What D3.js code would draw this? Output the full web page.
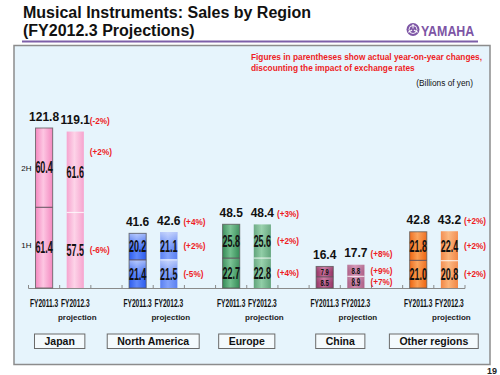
<!DOCTYPE html>
<html>
<head>
<meta charset="utf-8">
<script src="https://cdn.jsdelivr.net/npm/d3@7"></script>
<style>
  body { margin: 0; background: #fff; }
  svg { display: block; font-family: "Liberation Sans", Arial, sans-serif; }
</style>
</head>
<body>
<div id="chart"></div>
<script>
// values (billions of yen)
const regions = ["Japan", "North America", "Europe", "China", "Other regions"];
const years = ["FY2011.3", "FY2012.3"];
const firstHalf = [[61.4, 57.5], [21.4, 21.5], [22.7, 22.8], [8.5, 8.9], [21.0, 20.8]];
const secondHalf = [[60.4, 61.6], [20.2, 21.1], [25.8, 25.6], [7.9, 8.8], [21.8, 22.4]];
const totals = [[121.8, 119.1], [41.6, 42.6], [48.5, 48.4], [16.4, 17.7], [42.8, 43.2]];
const changeTotal = ["(-2%)", "(+4%)", "(+3%)", "(+8%)", "(+2%)"];
const change2H = ["(+2%)", "(+2%)", "(+2%)", "(+9%)", "(+2%)"];
const change1H = ["(-6%)", "(-5%)", "(+4%)", "(+7%)", "(+2%)"];

const regionColors = {
    "Japan": ["#f489c0", "#fdc6e2"],
    "North America": ["#2c5cee", "#5f88fa"],
    "Europe": ["#348a56", "#72c08e"],
    "China": ["#963466", "#c46c98"],
    "Other regions": ["#ee6410", "#fa9e52"]
};
const gloss = { "Japan": 0, "North America": 0.55, "Europe": 0.1, "China": 0.15, "Other regions": 0.1 };

const W = 500, H = 375;
const baseY = 288;

const svg = d3.select("#chart").append("svg")
    .attr("width", W)
    .attr("height", H);

const defs = svg.append("defs");

// slots: two bars per region with an empty slot between regions
const slots = [];
regions.forEach((r, i) => {
    years.forEach((y, j) => slots.push(`${r}|${j}`));
    if (i < regions.length - 1) slots.push(`gap${i}`);
});

const x = d3.scaleBand()
    .domain(slots)
    .range([28.5, 465])
    .padding(0);

const barW = x.bandwidth() * 0.55;

const y = d3.scaleLinear()
    .domain([0, 130])
    .range([baseY, baseY - 130 * 1.3136]);

// gradients
function mix(c, t) { return d3.interpolateRgb(c, "#ffffff")(t); }
regions.forEach((r, i) => {
    [0, 1].forEach(j => {
        const [edge, mid] = regionColors[r];
        const lift = j === 1 ? 0.22 : 0;
        const g = defs.append("linearGradient")
            .attr("id", `grad${i}_${j}`)
            .attr("x1", "0%").attr("x2", "100%").attr("y1", "0%").attr("y2", "0%");
        g.append("stop").attr("offset", "0%").attr("stop-color", mix(edge, lift));
        g.append("stop").attr("offset", "45%").attr("stop-color", mix(mid, lift));
        g.append("stop").attr("offset", "100%").attr("stop-color", mix(edge, lift));
    });
});
const gl = defs.append("linearGradient")
    .attr("id", "gloss")
    .attr("x1", "0%").attr("x2", "0%").attr("y1", "0%").attr("y2", "100%");
gl.append("stop").attr("offset", "0%").attr("stop-color", "#fff").attr("stop-opacity", 1);
gl.append("stop").attr("offset", "55%").attr("stop-color", "#fff").attr("stop-opacity", 0);

// title
svg.append("text")
    .attr("x", 23).attr("y", 17.5)
    .attr("font-size", 16).attr("font-weight", "bold").attr("fill", "#111")
    .text("Musical Instruments: Sales by Region");
svg.append("text")
    .attr("x", 23).attr("y", 36)
    .attr("font-size", 16).attr("font-weight", "bold").attr("fill", "#111")
    .text("(FY2012.3 Projections)");
svg.append("line")
    .attr("x1", 22).attr("x2", 478).attr("y1", 41.5).attr("y2", 41.5)
    .attr("stroke", "#7d5fa8").attr("stroke-width", 2);

// yamaha mark
const logo = svg.append("g").attr("transform", "translate(413,29.5)");
logo.append("circle").attr("r", 6.5).attr("fill", "#7d55a5");
logo.append("circle").attr("r", 4).attr("fill", "none").attr("stroke", "#fff").attr("stroke-width", 0.9);
[0, 120, 240].forEach(a => {
    logo.append("line")
        .attr("x1", 0).attr("y1", -1).attr("x2", 0).attr("y2", -5.5)
        .attr("stroke", "#fff").attr("stroke-width", 1)
        .attr("transform", `rotate(${a})`);
});
svg.append("text")
    .attr("transform", "translate(421,36) scale(0.8,1)")
    .attr("font-weight", "bold").attr("font-size", 15.5)
    .attr("fill", "#7d55a5")
    .text("YAMAHA");

// panel
svg.append("rect")
    .attr("x", 14).attr("y", 45.5).attr("width", 476).attr("height", 319)
    .attr("fill", "#e6f4fc").attr("stroke", "#8c8c8c").attr("stroke-width", 1.5);

svg.append("text")
    .attr("x", 251).attr("y", 60)
    .attr("font-size", 8.3).attr("font-weight", "bold").attr("fill", "#ee1c24")
    .text("Figures in parentheses show actual year-on-year changes,");
svg.append("text")
    .attr("x", 251).attr("y", 70.5)
    .attr("font-size", 8.3).attr("font-weight", "bold").attr("fill", "#ee1c24")
    .text("discounting the impact of exchange rates");
svg.append("text")
    .attr("x", 473).attr("y", 86).attr("text-anchor", "end")
    .attr("font-size", 8.3).attr("fill", "#111")
    .text("(Billions of yen)");

// axis line with ticks at slot boundaries
const axis = svg.append("g");
axis.append("line")
    .attr("x1", x.range()[0]).attr("x2", x.range()[1])
    .attr("y1", baseY + 0.5).attr("y2", baseY + 0.5)
    .attr("stroke", "#8a8a8a");
axis.selectAll(".tick")
    .data(slots.map(s => x(s)).concat([x.range()[1]]))
    .enter().append("line")
    .attr("x1", d => d).attr("x2", d => d)
    .attr("y1", baseY - 3).attr("y2", baseY + 0.5)
    .attr("stroke", "#8a8a8a");

function condText(g, cx, cy, str, size, sx) {
    return g.append("text")
        .attr("transform", `translate(${cx},${cy}) scale(${sx},1)`)
        .attr("text-anchor", "middle")
        .attr("font-weight", "bold")
        .attr("font-size", size)
        .attr("fill", "#111")
        .text(str);
}

const bars = svg.append("g");
regions.forEach((r, i) => {
    years.forEach((yr, j) => {
        const cx = x(`${r}|${j}`) + x.bandwidth() / 2;
        const x0 = cx - barW / 2;
        const h1 = firstHalf[i][j], h2 = secondHalf[i][j];
        const yMid = y(h1), yTop = y(h1 + h2);

        const segs = [[baseY, yMid], [yMid, yTop]];
        segs.forEach(([b, t]) => {
            bars.append("rect")
                .attr("x", x0).attr("y", t).attr("width", barW).attr("height", b - t)
                .attr("fill", `url(#grad${i}_${j})`);
            if (gloss[r] > 0) {
                bars.append("rect")
                    .attr("x", x0).attr("y", t).attr("width", barW).attr("height", b - t)
                    .attr("fill", "url(#gloss)").attr("opacity", gloss[r]);
            }
        });
        // divider
        bars.append("line")
            .attr("x1", x0).attr("x2", x0 + barW).attr("y1", yMid).attr("y2", yMid)
            .attr("stroke", j === 0 ? "#5a4a55" : "#ffffff")
            .attr("stroke-opacity", j === 0 ? 0.8 : 0.7)
            .attr("stroke-width", 1.2);
        if (j === 0) {
            bars.append("rect")
                .attr("x", x0).attr("y", yTop).attr("width", barW).attr("height", baseY - yTop)
                .attr("fill", "none").attr("stroke", "#555").attr("stroke-opacity", 0.75)
                .attr("stroke-width", 1);
        }

        // segment values
        [[h1, baseY, yMid], [h2, yMid, yTop]].forEach(([v, b, t]) => {
            const segH = b - t;
            const fs = Math.min(16, segH * 0.86);
            condText(bars, cx, (b + t) / 2 + fs * 0.36, v.toFixed(1), fs, 0.56 * Math.max(1, 14 / fs) ** 0.3);
        });

        // total
        bars.append("text")
            .attr("x", cx).attr("y", yTop - 7.5)
            .attr("text-anchor", "middle")
            .attr("font-size", 12).attr("font-weight", "bold").attr("fill", "#111")
            .text(totals[i][j].toFixed(1));

        // fiscal year labels
        condText(bars, cx, 307, yr, 10.5, 0.63);
        if (j === 1) {
            bars.append("text")
                .attr("x", cx + 2).attr("y", 319.5)
                .attr("text-anchor", "middle")
                .attr("font-size", 8).attr("font-weight", "bold").attr("fill", "#222")
                .text("projection");

            // red year-on-year changes
            const rx = x0 + barW + 6;
            const red = (ty, str) => bars.append("text")
                .attr("x", rx).attr("y", ty)
                .attr("font-size", 8.2).attr("font-weight", "bold").attr("fill", "#ee1c24")
                .text(str);
            red(yTop - 7.5, changeTotal[i]);
            red(Math.min((yMid + yTop) / 2, yTop + 20) + 3, change2H[i]);
            red((baseY + yMid) / 2 + 3, change1H[i]);
        }
    });

    // region box
    const gx = (x(`${r}|0`) + x(`${r}|1`) + x.bandwidth()) / 2;
    const box = svg.append("g");
    const label = box.append("text")
        .attr("x", gx).attr("y", 345)
        .attr("text-anchor", "middle")
        .attr("font-size", 10.5).attr("font-weight", "bold").attr("fill", "#111")
        .text(r);
    const tw = label.node().getComputedTextLength();
    box.insert("rect", "text")
        .attr("x", gx - tw / 2 - 10).attr("y", 334)
        .attr("width", tw + 20).attr("height", 14.5)
        .attr("fill", "#f4fafd").attr("stroke", "#6a6a6a").attr("stroke-width", 1);
});

// half labels next to the first Japan bar
const jx = x("Japan|0") + x.bandwidth() / 2 - barW / 2 - 4;
svg.append("text")
    .attr("x", jx).attr("y", (y(firstHalf[0][0]) + y(totals[0][0])) / 2 + 3)
    .attr("text-anchor", "end").attr("font-size", 8).attr("fill", "#111")
    .text("2H");
svg.append("text")
    .attr("x", jx).attr("y", (baseY + y(firstHalf[0][0])) / 2 + 0)
    .attr("text-anchor", "end").attr("font-size", 8).attr("fill", "#111")
    .text("1H");

// page number
svg.append("text")
    .attr("x", 497).attr("y", 374)
    .attr("text-anchor", "end").attr("font-size", 9).attr("font-weight", "bold").attr("fill", "#222")
    .text("19");
</script>
</body>
</html>
